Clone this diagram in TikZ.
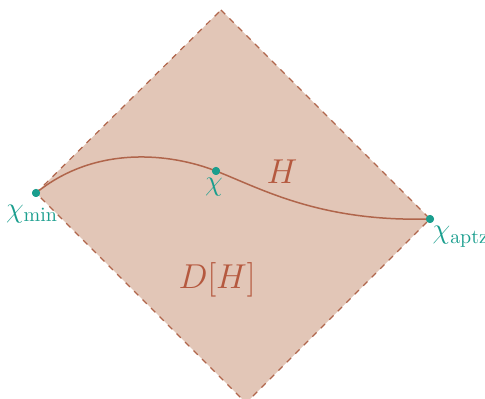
\documentclass[tikz,border=0pt]{standalone}
\usetikzlibrary{positioning}

\definecolor{domfill}{HTML}{E2C6B7}
\definecolor{domedge}{HTML}{B0654B}
\definecolor{sliceteal}{HTML}{1A9E8E}
\definecolor{labelred}{HTML}{B5593F}

\begin{document}
\begin{tikzpicture}[
  x=0.5pt, y=-0.5pt,
  edgeline/.style ={draw=domedge, line width=0.6pt, dashed},
  slice/.style    ={draw=domedge, line width=0.75pt},
  pt/.style       ={circle, fill=sliceteal, inner sep=0pt, minimum size=4pt},
  ptlabel/.style  ={text=sliceteal, font=\Large, inner sep=0pt},
  bigname/.style  ={text=labelred, font=\LARGE},
]
\useasboundingbox (0,0) rectangle (485,399);

% ---------------- domain of dependence ----------------
\coordinate (top)    at (221,10);
\coordinate (left)   at (36,193);
\coordinate (right)  at (430,219);
\coordinate (bottom) at (246,403);

\fill[domfill] (top) -- (right) -- (bottom) -- (left) -- cycle;
\draw[edgeline] (top) -- (right) -- (bottom) -- (left) -- cycle;

% ---------------- the slice H ----------------
\node[pt] (pmin)  at (left) {};
\node[pt] (pmid)  at (216,171) {};
\node[pt] (paptz) at (right) {};

\draw[slice] (pmin.center) .. controls (95,145) and (170,153) .. (pmid.center)
  .. controls (262,189) and (320,222) .. (paptz.center);

\fill[sliceteal] (pmin) circle (2pt);
\fill[sliceteal] (pmid) circle (2pt);
\fill[sliceteal] (paptz) circle (2pt);

\node[ptlabel, below=3.5pt of pmin, xshift=-2pt] (lmin) {$\chi_{\rm min}$};
\node[ptlabel, below=1pt of pmid, xshift=-1pt] (lmid) {$\chi$};
\node[ptlabel, below right=2pt and -0.5pt of paptz] (laptz) {$\chi_{\rm aptz}$};

\node[bigname] (hname) at (282,172) {$H$};
\node[bigname] (dname) at (217,280) {$D[H]$};

\end{tikzpicture}
\end{document}
